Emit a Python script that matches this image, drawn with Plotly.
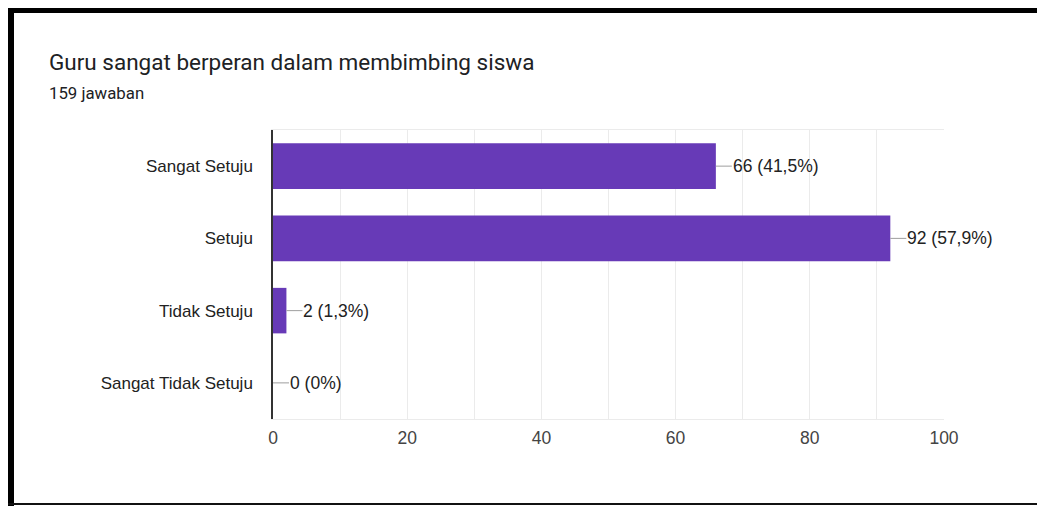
import plotly.graph_objects as go

categories = ["Sangat Setuju", "Setuju", "Tidak Setuju", "Sangat Tidak Setuju"]
counts = [66, 92, 2, 0]
percent_labels = ["41,5%", "57,9%", "1,3%", "0%"]
x_ticks = [0, 20, 40, 60, 80, 100]
title_text = "Guru sangat berperan dalam membimbing siswa"
subtitle_text = "159 jawaban"

OFF = 8  # page body margin
W, H = 1045 - OFF, 506 - OFF
L, R, T, B = 273 - OFF, 944 - OFF, 130 - OFF, 419 - OFF

def px(x):
    return (x - OFF - L) / (R - L)

def py(y):
    return (B - (y - OFF)) / (B - T)

FONT = "Liberation Sans, Arial"

fig = go.Figure()
fig.add_trace(go.Bar(
    x=counts, y=categories, orientation="h",
    marker=dict(color="#673ab7", line=dict(width=0)),
    width=0.63, hoverinfo="skip",
))

for c, v, p in zip(categories, counts, percent_labels):
    fig.add_annotation(
        x=v, y=c, xref="x", yref="y",
        text=f"{v} ({p})", showarrow=True, arrowhead=0, arrowwidth=1,
        arrowcolor="#9e9e9e", ax=16, ay=0, xanchor="left",
        font=dict(family=FONT, size=17.5, color="#222222"),
        borderpad=0, standoff=0,
    )

fig.add_annotation(x=px(47), y=py(62), xref="paper", yref="paper",
                   text=title_text, showarrow=False, xanchor="left", yanchor="middle",
                   font=dict(family="Roboto", size=22.5, color="#202124"))
fig.add_annotation(x=px(47), y=py(93), xref="paper", yref="paper",
                   text=subtitle_text, showarrow=False, xanchor="left", yanchor="middle",
                   font=dict(family="Roboto", size=16.8, color="#202124"))

black = "#000000"
fig.add_shape(type="rect", xref="paper", yref="paper", x0=px(0), x1=px(1050), y0=py(0), y1=py(13),
              fillcolor=black, line=dict(width=0), layer="above")
fig.add_shape(type="rect", xref="paper", yref="paper", x0=px(0), x1=px(14), y0=py(0), y1=py(510),
              fillcolor=black, line=dict(width=0), layer="above")
fig.add_shape(type="rect", xref="paper", yref="paper", x0=px(5), x1=px(1050), y0=py(503), y1=py(505),
              fillcolor="#111111", line=dict(width=0), layer="above")

fig.update_layout(
    width=W, height=H,
    margin=dict(l=L, r=W - R, t=T, b=H - B, pad=0),
    paper_bgcolor="white", plot_bgcolor="white",
    showlegend=False, bargap=0.37,
    font=dict(family=FONT, size=17.5, color="#222222"),
)
fig.update_xaxes(
    range=[0, 100], tickvals=x_ticks, showgrid=True, gridcolor="#ebebeb", gridwidth=1,
    minor=dict(dtick=10, showgrid=True, gridcolor="#ebebeb", gridwidth=1),
    showline=True, linecolor="#ebebeb", linewidth=1, mirror=True,
    zeroline=False, ticks="", ticklabelstandoff=3,
    tickfont=dict(family=FONT, size=17.5, color="#444444"),
    fixedrange=True,
)
fig.update_yaxes(
    categoryorder="array", categoryarray=categories[::-1],
    showgrid=False, showline=True, linecolor="#333333", linewidth=1.5,
    zeroline=False, ticks="", ticklabelstandoff=15,
    tickfont=dict(family=FONT, size=17, color="#222222"),
    fixedrange=True,
)

fig.write_html("out.html")
